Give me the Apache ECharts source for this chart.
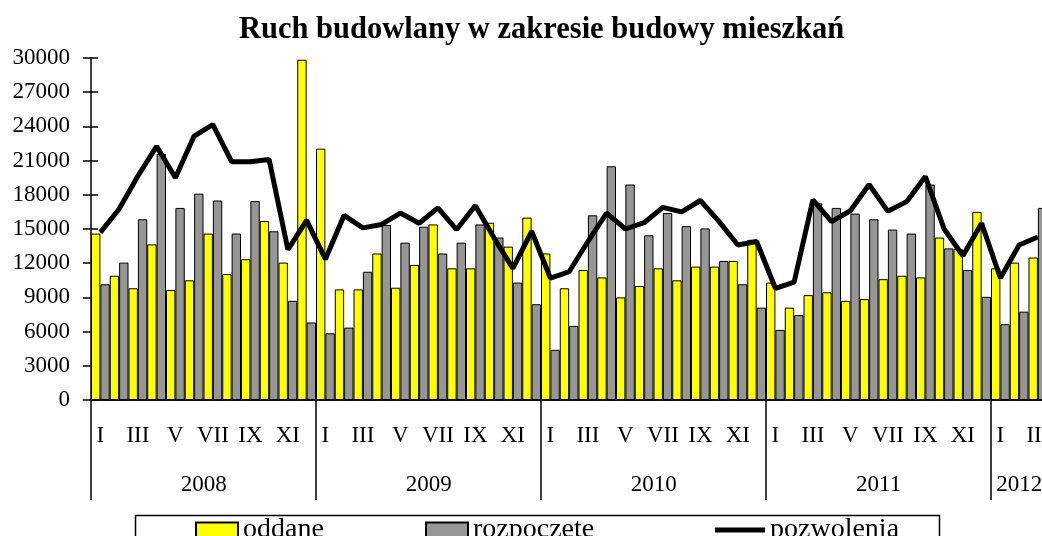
<html>
  <head>
    <meta http-equiv="Content-Type" content="text/html; charset=utf-8" />
    <title>Ruch budowlany</title>
    <style>
      html, body { margin: 0; padding: 0; background: white; }
      #chart { width: 1042px; height: 536px; }
    </style>
  </head>
  <body>
    <div id="chart"></div>
    <script src="https://cdn.jsdelivr.net/npm/echarts@6/dist/echarts.min.js"></script>
    <script>
      var years = ['2008', '2009', '2010', '2011', '2012'];
      var monthNames = ['I', 'II', 'III', 'IV', 'V', 'VI', 'VII', 'VIII', 'IX', 'X', 'XI', 'XII'];
      var yTicks = [0, 30000, 3000];   // min, max, krok

      // oddane
      var oddane = [
        14600, 10900, 9800, 13650, 9650, 10500, 14600, 11050, 12350, 15700, 12050, 29850,
        22050, 9700, 9700, 12850, 9850, 11850, 15400, 11550, 11550, 15550, 13450, 16000,
        12850, 9800, 11400, 10750, 9000, 10000, 11550, 10500, 11700, 11700, 12200, 14050,
        10300, 8100, 9200, 9450, 8700, 8850, 10600, 10900, 10750, 14250, 13250, 16500,
        11550, 12050, 12500
      ];
      // rozpoczęte
      var rozpoczete = [
        10150, 12050, 15850, 21600, 16850, 18100, 17500, 14600, 17450, 14800, 8700, 6800,
        5850, 6350, 11250, 15350, 13800, 15200, 12850, 13800, 15400, 14250, 10300, 8400,
        4400, 6500, 16200, 20500, 18900, 14450, 16400, 15250, 15050, 12200, 10150, 8100,
        6150, 7450, 17250, 16850, 16350, 15850, 14950, 14600, 18900, 13300, 11400, 9050,
        6650, 7750, 16850
      ];
      // pozwolenia
      var pozwolenia = [
        14700, 16750, 19650, 22250, 19500, 23150, 24150, 20900, 20900, 21100, 13200, 15750,
        12350, 16200, 15100, 15400, 16400, 15500, 16850, 14950, 17050, 14200, 11550, 14800,
        10700, 11250, 13900, 16400, 15000, 15550, 16900, 16500, 17500, 15650, 13600, 13900,
        9800, 10350, 17550, 15650, 16600, 18900, 16550, 17400, 19600, 15000, 12650, 15500,
        10700, 13600, 14300
      ];

      var font = "'Liberation Serif', 'Times New Roman', serif";

      // kategorie: miesiąc + rok
      var monthCats = [];
      var yearCats = [];
      for (var i = 0; i < oddane.length; i++) {
        monthCats.push(monthNames[i % 12]);
        yearCats.push(years[Math.floor(i / 12)]);
      }
      var nCats = monthCats.length;
      var catW = 18.75;

      var legendText = { fontFamily: font, fontSize: 28, color: '#000' };

      var myChart = echarts.init(document.getElementById('chart'));
      var option = {
        backgroundColor: '#fff',
        animation: false,
        title: {
          text: 'Ruch budowlany w zakresie budowy mieszkań',
          left: 234,
          top: 10,
          textStyle: { fontFamily: font, fontSize: 30.5, fontWeight: 'bold', color: '#000' }
        },
        grid: {
          left: 91, top: 58, width: nCats * catW, height: 342,
          outerBoundsMode: 'none', containLabel: false
        },
        legend: [
          {
            data: [{ name: 'oddane', icon: 'rect' }], left: 190, top: 511,
            itemWidth: 42, itemHeight: 15, itemGap: 0,
            textStyle: legendText
          },
          {
            data: [{ name: 'rozpoczęte', icon: 'rect' }], left: 420, top: 511,
            itemWidth: 42, itemHeight: 15, itemGap: 0,
            textStyle: legendText
          },
          {
            data: [{ name: 'pozwolenia', icon: 'rect' }], left: 710, top: 511,
            itemWidth: 50, itemHeight: 5, itemGap: 0,
            textStyle: legendText
          }
        ],
        graphic: [
          {
            type: 'rect', left: 133, top: 513, z: 0,
            shape: { width: 804, height: 40 },
            style: { fill: 'none', stroke: '#000', lineWidth: 1.5 }
          }
        ],
        xAxis: [
          {
            type: 'category',
            data: monthCats,
            axisLine: { lineStyle: { color: '#000', width: 1.5 } },
            axisTick: { show: false },
            axisLabel: {
              interval: 1, margin: 24, color: '#000',
              fontFamily: font, fontSize: 23
            }
          },
          {
            // druga oś: lata i pionowe kreski między latami
            type: 'category',
            data: yearCats,
            position: 'bottom',
            axisLine: { show: true, lineStyle: { color: '#000', width: 1.5 } },
            axisTick: {
              show: true,
              length: 100,
              interval: function (idx) { return idx % 12 === 0; },
              lineStyle: { color: '#000', width: 1.5 }
            },
            axisLabel: {
              margin: 73, color: '#000', fontFamily: font, fontSize: 23,
              interval: function (idx) { return idx % 12 === 5 || idx === 49; },
              formatter: function (val, idx) {
                if (idx === 49) return val;
                return '{s|' + val + '}';
              },
              rich: { s: { padding: [0, 0, 0, 19], fontFamily: font, fontSize: 23, color: '#000' } }
            }
          }
        ],
        yAxis: [
          {
            type: 'value',
            min: yTicks[0], max: yTicks[1], interval: yTicks[2],
            splitLine: { show: false },
            axisLine: { show: true, lineStyle: { color: '#000', width: 1.5 } },
            axisTick: { show: true, length: 8, lineStyle: { color: '#000', width: 1.5 } },
            axisLabel: {
              margin: 21, color: '#000', fontFamily: font, fontSize: 23,
              formatter: function (v) { return String(v); }
            }
          },
          {
            // krótkie kreski po wewnętrznej stronie osi
            type: 'value', position: 'left',
            min: yTicks[0], max: yTicks[1], interval: yTicks[2],
            splitLine: { show: false },
            axisLine: { show: false },
            axisTick: { show: true, inside: true, length: 7, lineStyle: { color: '#000', width: 1.5 } },
            axisLabel: { show: false }
          }
        ],
        series: [
          {
            name: 'oddane', type: 'bar', data: oddane,
            barGap: '0%', barCategoryGap: '0%',
            itemStyle: { color: '#ffff00', borderColor: '#000', borderWidth: 1 }
          },
          {
            name: 'rozpoczęte', type: 'bar', data: rozpoczete,
            itemStyle: { color: '#969696', borderColor: '#000', borderWidth: 1 }
          },
          {
            name: 'pozwolenia', type: 'line', data: pozwolenia,
            symbol: 'none', z: 5,
            lineStyle: { color: '#000', width: 5 },
            itemStyle: { color: '#000' }
          }
        ]
      };
      myChart.setOption(option);
    </script>
  </body>
</html>
